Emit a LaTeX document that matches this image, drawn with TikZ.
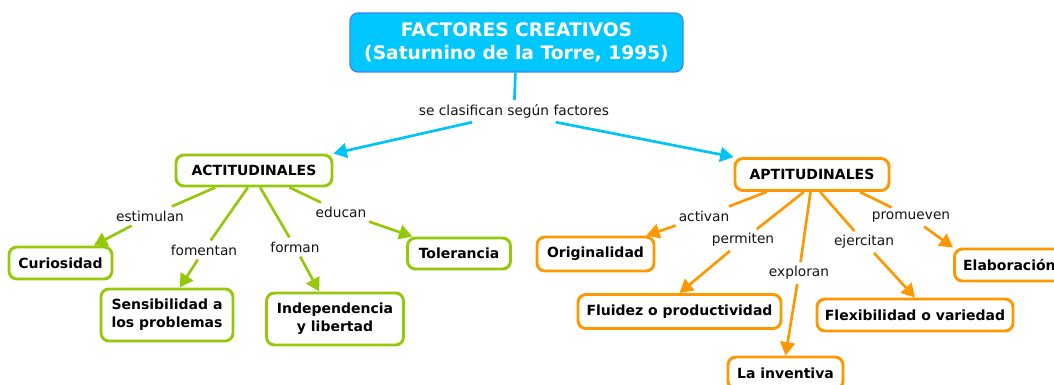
\documentclass[tikz,border=0pt]{standalone}
\usepackage{fontspec}
\setmainfont{DejaVu Sans}
\usetikzlibrary{arrows.meta}
\definecolor{cyanfill}{RGB}{0,200,255}
\definecolor{cyanline}{RGB}{0,195,250}
\definecolor{titleborder}{RGB}{60,130,255}
\definecolor{greenc}{RGB}{150,200,10}
\definecolor{orangec}{RGB}{255,152,0}
\definecolor{txt}{RGB}{20,20,20}
\tikzset{
  titlebox/.style={draw=titleborder, line width=1pt, fill=cyanfill, rounded corners=6pt,
    text=white, font=\fontsize{14}{17.25}\selectfont\bfseries, align=center, inner sep=0pt},
  gbox/.style={draw=greenc, line width=2.2pt, fill=white, rounded corners=6pt, text=black,
    font=\fontsize{10.5}{13.5}\selectfont\bfseries, align=center, inner sep=0pt},
  obox/.style={gbox, draw=orangec},
  lbl/.style={font=\fontsize{10.3}{12}\selectfont, text=txt, inner sep=3pt},
  gline/.style={draw=greenc, line width=2pt},
  oline/.style={draw=orangec, line width=2pt},
  cline/.style={draw=cyanline, line width=2pt},
  tip/.style={-{Triangle[length=10pt,width=11pt]}},
}
\begin{document}
\begin{tikzpicture}[x=0.75pt,y=-0.75pt]
\useasboundingbox (0,0) rectangle (1054,385);
% title
\node[titlebox, minimum width=333*0.75pt, minimum height=59*0.75pt] (title) at (516.5,42.5)
  {FACTORES CREATIVOS\\ (Saturnino de la Torre, 1995)};
\node[lbl] (clas) at (514,111) {se clasifican según factores};
% left
\node[gbox, minimum width=156*0.75pt, minimum height=31*0.75pt] (act) at (254,170.5) {ACTITUDINALES};
\node[gbox, minimum width=103*0.75pt, minimum height=32*0.75pt] (cur) at (60.5,263) {Curiosidad};
\node[gbox, minimum width=132*0.75pt, minimum height=52*0.75pt] (sen) at (167,315) {Sensibilidad a\\los problemas};
\node[gbox, minimum width=137*0.75pt, minimum height=52*0.75pt] (ind) at (335,319) {Independencia\\y libertad};
\node[gbox, minimum width=103*0.75pt, minimum height=31*0.75pt] (tol) at (459,253.5) {Tolerancia};
\node[lbl] (estim) at (150,216) {estimulan};
\node[lbl] (foment) at (204,250) {fomentan};
\node[lbl] (forman) at (295,247) {forman};
\node[lbl] (educan) at (341,212) {educan};
% right
\node[obox, minimum width=154*0.75pt, minimum height=32*0.75pt] (apt) at (812,174.5) {APTITUDINALES};
\node[obox, minimum width=117*0.75pt, minimum height=34*0.75pt] (ori) at (595.5,254) {Originalidad};
\node[obox, minimum width=203*0.75pt, minimum height=34*0.75pt] (flu) at (679.5,311.5) {Fluidez o productividad};
\node[obox, minimum width=115*0.75pt, minimum height=32*0.75pt] (inv) at (785.5,373) {La inventiva};
\node[obox, minimum width=196*0.75pt, minimum height=32*0.75pt] (fle) at (915,315) {Flexibilidad o variedad};
\node[obox, minimum height=32*0.75pt, anchor=west] (ela) at (953,265) {\hspace*{6.5pt}Elaboración\hspace*{10pt}};
\node[lbl] (activ) at (704,216) {activan};
\node[lbl] (permit) at (743,240) {permiten};
\node[lbl] (explor) at (799,273) {exploran};
\node[lbl] (ejerc) at (864,242) {ejercitan};
\node[lbl] (promu) at (911,217) {promueven};
% connectors
\draw[cline] (title) -- (clas);
\draw[cline, tip] (clas.195) -- (act.north east);
\draw[cline, tip] (clas.345) -- (apt.north west);
\draw[gline] (act) -- (estim);
\draw[gline, tip] (estim) -- (cur);
\draw[gline] (act.250) -- (foment);
\draw[gline, tip] (foment) -- (sen.65);
\draw[gline] (act.290) -- (forman);
\draw[gline, tip] (forman) -- (ind.120);
\draw[gline] (act) -- (educan);
\draw[gline, tip] (educan) -- (tol.160);
\draw[oline] (apt) -- (activ);
\draw[oline, tip] (activ) -- (ori.20);
\draw[oline] (apt.245) -- (permit);
\draw[oline, tip] (permit) -- (flu.north);
\draw[oline] (apt.265) -- (explor);
\draw[oline, tip] (explor) -- (inv.north);
\draw[oline] (apt.295) -- (ejerc);
\draw[oline, tip] (ejerc) -- (fle.north);
\draw[oline] (apt.340) -- (promu);
\draw[oline, tip] (promu) -- (ela.north west);
\end{tikzpicture}
\end{document}
